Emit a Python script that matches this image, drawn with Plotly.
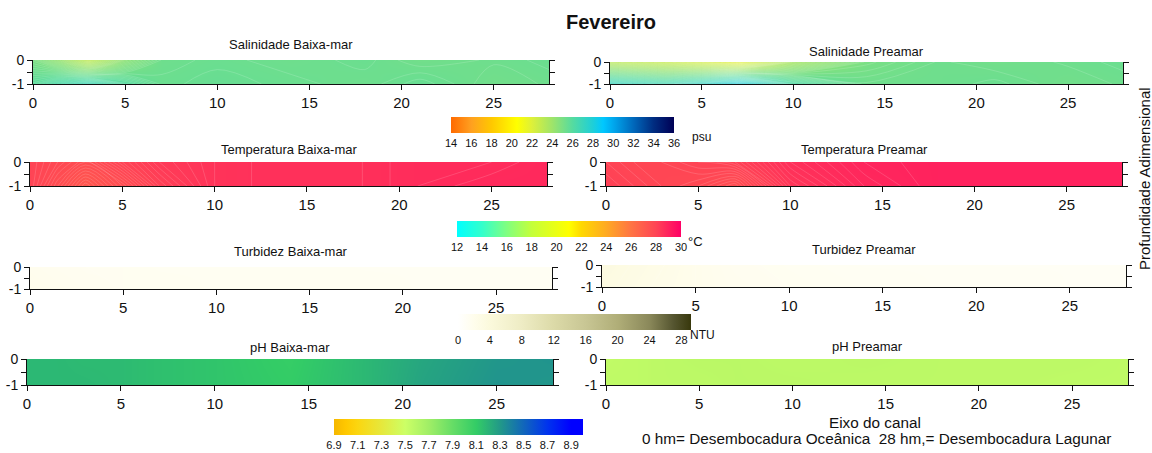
import plotly.graph_objects as go

W, H = 1152, 453

# ---------------- data ----------------
stations = [0, 1.5, 3, 5, 7, 10, 14, 18, 21, 25, 28]
depths = [-1, 0]

sal_bm_surface = [25.0, 24.2, 23.0, 24.5, 25.3, 25.4, 25.3, 25.4, 25.2, 25.3, 25.4]
sal_bm_bottom = [25.8, 26.4, 26.9, 26.0, 25.4, 25.5, 25.4, 25.3, 25.5, 25.2, 25.3]
sal_pm_surface = [23.2, 23.0, 22.8, 22.4, 21.8, 23.8, 25.0, 25.3, 25.2, 25.3, 25.4]
sal_pm_bottom = [27.2, 27.0, 26.8, 27.4, 28.4, 26.2, 25.3, 25.3, 25.4, 25.2, 25.3]

tem_bm_surface = [28.0, 27.8, 27.6, 28.0, 28.3, 28.5, 28.6, 28.6, 28.7, 28.7, 28.8]
tem_bm_bottom = [28.0, 27.6, 27.2, 27.6, 28.1, 28.5, 28.6, 28.6, 28.7, 28.8, 28.8]
tem_pm_surface = [28.0, 27.9, 27.9, 28.0, 28.1, 28.6, 28.9, 29.0, 29.0, 29.0, 29.0]
tem_pm_bottom = [28.1, 28.0, 27.9, 27.8, 27.6, 28.4, 28.8, 29.0, 29.0, 29.0, 29.0]

tur_bm_surface = [1.8, 1.6, 1.5, 1.5, 1.4, 1.4, 1.4, 1.3, 1.3, 1.3, 1.3]
tur_bm_bottom = [2.0, 1.8, 1.6, 1.5, 1.5, 1.4, 1.4, 1.4, 1.3, 1.3, 1.3]
tur_pm_surface = [3.5, 3.0, 2.6, 2.0, 1.6, 1.4, 1.2, 1.2, 1.1, 1.1, 1.1]
tur_pm_bottom = [3.2, 2.8, 2.4, 2.0, 1.7, 1.5, 1.3, 1.2, 1.2, 1.1, 1.1]

ph_bm_surface = [8.18, 8.18, 8.17, 8.17, 8.15, 8.13, 8.09, 8.18, 8.25, 8.31, 8.32]
ph_bm_bottom = [8.18, 8.18, 8.18, 8.17, 8.15, 8.13, 8.10, 8.18, 8.26, 8.32, 8.31]
ph_pm_surface = [7.55, 7.56, 7.57, 7.58, 7.58, 7.57, 7.58, 7.57, 7.57, 7.57, 7.56]
ph_pm_bottom = [7.56, 7.56, 7.57, 7.57, 7.58, 7.58, 7.57, 7.57, 7.57, 7.56, 7.56]

x_ticks = [0, 5, 10, 15, 20, 25]
sal_ticks = [14, 16, 18, 20, 22, 24, 26, 28, 30, 32, 34, 36]
tem_ticks = [12, 14, 16, 18, 20, 22, 24, 26, 28, 30]
tur_ticks = [0, 4, 8, 12, 16, 20, 24, 28]
ph_ticks = [6.9, 7.1, 7.3, 7.5, 7.7, 7.9, 8.1, 8.3, 8.5, 8.7, 8.9]
sal_bar_dividers = [16, 24, 33]

# ---------------- colour scales ----------------
def scale(stops, lo, hi):
    return [[(v - lo) / (hi - lo), c] for v, c in stops]

sal_cs = scale([(14, "#ff6a00"), (16, "#ffa020"), (18, "#ffc800"), (20.5, "#ffff00"),
                (22, "#ddf03a"), (24, "#9ee46a"), (26, "#55dba0"), (28, "#1ecfd8"),
                (29, "#00c8ff"), (30, "#00a8ee"), (32, "#0068bb"), (34, "#002c80"),
                (36, "#000055")], 14, 36)
tem_cs = scale([(12, "#00ffff"), (14, "#33ffcc"), (16, "#80ff80"), (18, "#c4ff3a"),
                (21, "#ffff00"), (22, "#ffd800"), (24, "#ffaa22"), (26, "#ff7444"),
                (28, "#ff4455"), (30, "#ff0066")], 12, 30)
tur_cs = scale([(0, "#ffffff"), (2, "#fffdec"), (4, "#fbf9dc"), (8, "#eeecc4"),
                (12, "#dcdaa8"), (16, "#c8c694"), (20, "#b0ae78"), (24, "#8a885a"),
                (27, "#555530"), (29.2, "#38380c")], 0, 29.2)
ph_cs = scale([(6.9, "#f5b700"), (7.0, "#ffc800"), (7.1, "#fbd610"), (7.3, "#e6e83c"),
               (7.5, "#ccff66"), (7.7, "#a0ee66"), (7.9, "#66dd66"), (8.1, "#33cc66"),
               (8.3, "#229988"), (8.5, "#1166bb"), (8.7, "#0033ee"), (8.9, "#0000ff"),
               (9.0, "#0000ff")], 6.9, 9.0)

FONT = "Liberation Sans, Arial, sans-serif"
TICKFONT = "Liberation Sans Narrow, Arial Narrow, Liberation Sans, sans-serif"

fig = go.Figure()

panels = [
    (sal_bm_surface, sal_bm_bottom, "coloraxis", (33, 549, 60, 84), "Salinidade Baixa-mar", 45, 0.08),
    (sal_pm_surface, sal_pm_bottom, "coloraxis", (610, 1123, 62, 84), "Salinidade Preamar", 51, 0.08),
    (tem_bm_surface, tem_bm_bottom, "coloraxis2", (30, 547, 162, 186), "Temperatura Baixa-mar", 149, 0.05),
    (tem_pm_surface, tem_pm_bottom, "coloraxis2", (606, 1122, 162, 186), "Temperatura Preamar", 149, 0.05),
    (tur_bm_surface, tur_bm_bottom, "coloraxis3", (30, 552, 267, 289), "Turbidez Baixa-mar", 251, 0.5),
    (tur_pm_surface, tur_pm_bottom, "coloraxis3", (602, 1126, 265, 287), "Turbidez Preamar", 249, 0.5),
    (ph_bm_surface, ph_bm_bottom, "coloraxis4", (27, 553, 359, 385), "pH Baixa-mar", 347, 0.006),
    (ph_pm_surface, ph_pm_bottom, "coloraxis4", (606, 1128, 359, 385), "pH Preamar", 346, 0.006),
]

annotations = []
for i, (surf, bot, cax, box, title, ty, csize) in enumerate(panels):
    n = i + 1
    xa = "x" if n == 1 else f"x{n}"
    ya = "y" if n == 1 else f"y{n}"
    x0, x1, yt, yb = box
    fig.add_trace(go.Contour(
        x=stations, y=depths, z=[bot, surf],
        coloraxis=cax,
        contours=dict(coloring="heatmap", start=0, end=40, size=csize, showlines=True),
        line=dict(color="rgba(255,255,255,0.3)", width=0.5, smoothing=1),
        xaxis=xa, yaxis=ya, hoverinfo="skip",
    ))
    xkey = "xaxis" if n == 1 else f"xaxis{n}"
    ykey = "yaxis" if n == 1 else f"yaxis{n}"
    fig.layout[xkey] = dict(
        domain=[x0 / W, x1 / W], anchor=ya, range=[0, 28],
        tickvals=x_ticks, ticks="outside", ticklen=5, tickcolor="#111",
        showline=True, linecolor="#111", linewidth=1,
        showgrid=False, zeroline=False, automargin=False,
        tickfont=dict(family=TICKFONT, size=15, color="#111"),
    )
    fig.layout[ykey] = dict(
        domain=[1 - yb / H, 1 - yt / H], anchor=xa, range=[-1, 0],
        tickvals=[0, -0.5, -1], ticktext=["0", "", "-1"],
        ticks="outside", ticklen=5, tickcolor="#111",
        showline=True, linecolor="#111", linewidth=1, mirror="ticks",
        showgrid=False, zeroline=False, automargin=False,
        tickfont=dict(family=TICKFONT, size=14, color="#111"),
    )
    annotations.append(dict(
        text=title, x=(x0 + x1) / 2 / W, y=1 - ty / H, xref="paper", yref="paper",
        xanchor="center", yanchor="middle", showarrow=False,
        font=dict(family=FONT, size=13, color="#111"),
    ))

def cbar(x0, x1, ytop, ticks, fmt=None):
    d = dict(
        orientation="h", x=(x0 + x1) / 2 / W, xanchor="center",
        y=1 - ytop / H, yanchor="top",
        len=(x1 - x0), lenmode="pixels", thickness=16, thicknessmode="pixels",
        xpad=0, ypad=0, outlinewidth=0, tickvals=ticks, ticks="",
        tickfont=dict(family=FONT, size=11, color="#111"),
    )
    if fmt:
        d["tickformat"] = fmt
    return d

SAL_BAR = (451, 674, 117)
fig.update_layout(
    coloraxis=dict(colorscale=sal_cs, cmin=14, cmax=36, colorbar=cbar(*SAL_BAR, sal_ticks)),
    coloraxis2=dict(colorscale=tem_cs, cmin=12, cmax=30, colorbar=cbar(457, 681, 221, tem_ticks)),
    coloraxis3=dict(colorscale=tur_cs, cmin=0, cmax=29.2, colorbar=cbar(458, 691, 314, tur_ticks)),
    coloraxis4=dict(colorscale=ph_cs, cmin=6.9, cmax=9.0, colorbar=cbar(334, 583, 419, ph_ticks, ".1f")),
)

shapes = []
for v in sal_bar_dividers:
    px = SAL_BAR[0] + (v - 14) / 22 * (SAL_BAR[1] - SAL_BAR[0])
    shapes.append(dict(type="line", xref="paper", yref="paper", x0=px / W, x1=px / W,
                       y0=1 - SAL_BAR[2] / H, y1=1 - (SAL_BAR[2] + 16) / H,
                       line=dict(color="white", width=1.2), layer="above"))

for txt, px, py, sz in [("psu", 701, 137, 12), ("°C", 695, 242, 13), ("NTU", 702, 335, 12)]:
    annotations.append(dict(text=txt, x=px / W, y=1 - py / H, xref="paper", yref="paper",
                            xanchor="center", yanchor="middle", showarrow=False,
                            font=dict(family=FONT, size=sz, color="#111")))

annotations += [
    dict(text="<b>Fevereiro</b>", x=611 / W, y=1 - 22 / H, xref="paper", yref="paper",
         xanchor="center", yanchor="middle", showarrow=False,
         font=dict(family=FONT, size=20, color="#111")),
    dict(text="Profundidade Adimensional", x=1144 / W, y=1 - 179 / H, xref="paper", yref="paper",
         xanchor="center", yanchor="middle", showarrow=False, textangle=-90,
         font=dict(family=FONT, size=15, color="#111")),
    dict(text="Eixo do canal", x=875 / W, y=1 - 422 / H, xref="paper", yref="paper",
         xanchor="center", yanchor="middle", showarrow=False,
         font=dict(family=FONT, size=15.3, color="#111")),
    dict(text="0 hm= Desembocadura Oceânica  28 hm,= Desembocadura Lagunar", x=876 / W, y=1 - 438 / H,
         xref="paper", yref="paper", xanchor="center", yanchor="middle", showarrow=False,
         font=dict(family=FONT, size=15.3, color="#111")),
]

fig.update_layout(
    width=W, height=H, margin=dict(l=0, r=0, t=0, b=0, autoexpand=False),
    paper_bgcolor="white", plot_bgcolor="white",
    annotations=annotations, shapes=shapes, showlegend=False,
)

fig.write_html("out.html", config={"displayModeBar": False},
               post_script="document.body.style.margin='0px';document.body.style.overflow='hidden';")
